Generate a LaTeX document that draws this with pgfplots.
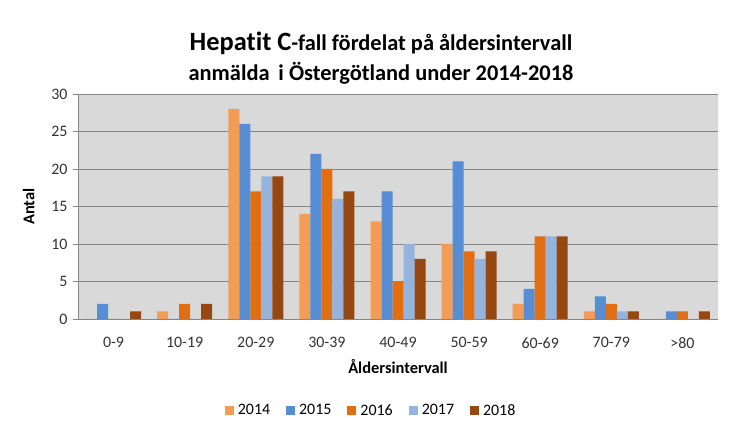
\documentclass[border=0pt]{standalone}
\usepackage{pgfplots}
\pgfplotsset{compat=1.18}
\usepackage{fontspec}
\setmainfont{Carlito}[Ligatures=NoCommon]
\definecolor{c14}{RGB}{244,155,84}
\definecolor{c15}{RGB}{86,141,212}
\definecolor{c16}{RGB}{226,110,20}
\definecolor{c17}{RGB}{149,180,221}
\definecolor{c18}{RGB}{150,72,16}
\definecolor{plotbg}{RGB}{217,217,217}
\definecolor{gridc}{RGB}{134,134,134}
\begin{document}
\begin{tikzpicture}[x=1bp,y=1bp]
\useasboundingbox[fill=white] (0,0) rectangle (737,437);
\node[font=\bfseries, inner sep=0pt] at (381,394) {{\fontsize{26.5}{30}\selectfont Hepatit C}{\fontsize{22.5}{26}\selectfont -fall fördelat på åldersintervall}};
\node[font=\bfseries\fontsize{22.5}{26}\selectfont, inner sep=0pt] at (381,364) {anmälda\, i Östergötland under 2014-2018};
\begin{axis}[
  at={(78bp,118bp)}, anchor=south west,
  scale only axis, width=640bp, height=225bp,
  xmin=-0.5, xmax=8.5, ymin=0, ymax=30,
  ytick={0,5,...,30},
  xtick={0,...,8},
  xticklabels={0-9,10-19,20-29,30-39,40-49,50-59,60-69,70-79,>80},
  axis background/.style={fill=plotbg},
  ymajorgrids, grid style={gridc, line width=0.8pt},
  axis x line*=bottom, axis y line*=left,
  axis line style={draw=gridc, line width=0.8pt, -},
  xtick style={draw=none},
  ytick style={draw=gridc, line width=0.8pt},
  major tick length=5bp, tick align=outside,
  tick label style={font=\fontsize{16}{18}\selectfont, text=black!80},
  yticklabel style={xshift=-2bp},
  xticklabel style={yshift=-10bp},
  /pgf/number format/assume math mode=true,
  ylabel={\bfseries Antal}, ylabel style={font=\fontsize{16.5}{18}\selectfont, yshift=10bp},
  xlabel={\bfseries Åldersintervall}, xlabel style={font=\fontsize{16.5}{18}\selectfont, yshift=-4bp},
  ybar=0pt, bar width=11bp,
  legend columns=5,
  legend style={at={(0.458,-0.36)}, anchor=north, draw=none, fill=none,
    font=\fontsize{16}{18}\selectfont, column sep=2bp,
    /tikz/every even column/.append style={column sep=14bp}},
  legend image code/.code={\fill[#1] (0bp,-4.5bp) rectangle (9bp,4.5bp);},
]
\addplot[fill=c14, draw=none] coordinates {(0,0) (1,1) (2,28) (3,14) (4,13) (5,10) (6,2) (7,1) (8,0)};
\addplot[fill=c15, draw=none] coordinates {(0,2) (1,0) (2,26) (3,22) (4,17) (5,21) (6,4) (7,3) (8,1)};
\addplot[fill=c16, draw=none] coordinates {(0,0) (1,2) (2,17) (3,20) (4,5) (5,9) (6,11) (7,2) (8,1)};
\addplot[fill=c17, draw=none] coordinates {(0,0) (1,0) (2,19) (3,16) (4,10) (5,8) (6,11) (7,1) (8,0)};
\addplot[fill=c18, draw=none] coordinates {(0,1) (1,2) (2,19) (3,17) (4,8) (5,9) (6,11) (7,1) (8,1)};
\legend{2014,2015,2016,2017,2018}
\end{axis}
\end{tikzpicture}
\end{document}
